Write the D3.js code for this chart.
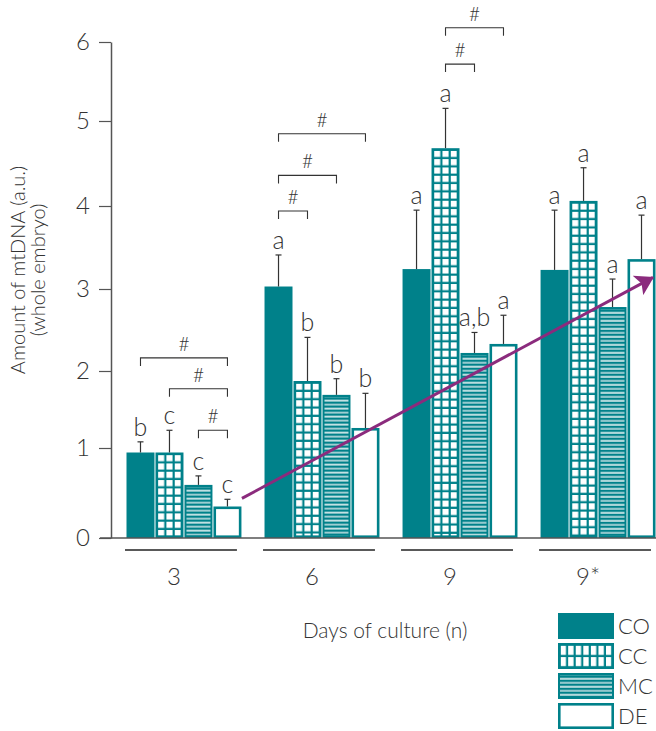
<!DOCTYPE html>
<html>
<head>
<meta charset="utf-8">
<script src="https://cdn.jsdelivr.net/npm/d3@7"></script>
<style>
  html, body { margin: 0; padding: 0; background: #fff; }
  svg { display: block; font-family: Lato, "Open Sans", sans-serif; font-weight: 300; }
</style>
</head>
<body>
<svg id="chart" width="656" height="731"></svg>
<script>
// ---------------- data ----------------
const days = ["3", "6", "9", "9*"];
const series = ["CO", "CC", "MC", "DE"];
const meanCO = [0.95, 3.03, 3.24, 3.23];
const meanCC = [0.95, 1.87, 4.68, 4.06];
const meanMC = [0.59, 1.69, 2.22, 2.78];
const meanDE = [0.35, 1.26, 2.33, 3.36];
// upper end of error bars
const errCO = [1.08, 3.41, 3.95, 3.95];
const errCC = [1.23, 2.41, 5.16, 4.45];
const errMC = [0.69, 1.90, 2.47, 3.12];
const errDE = [0.43, 1.71, 2.68, 3.89];
// significance letters
const letCO = ["b", "a", "a", "a"];
const letCC = ["c", "b", "a", "a"];
const letMC = ["c", "b", "a,b", "a"];
const letDE = ["c", "b", "a", "a"];
const yTicks = [0, 1, 2, 3, 4, 5, 6];
// "#" brackets (level in axis units)
const brackets = [
  { day: "3", from: "CO", to: "DE", level: 2.16 },
  { day: "3", from: "CC", to: "DE", level: 1.77 },
  { day: "3", from: "MC", to: "DE", level: 1.23 },
  { day: "6", from: "CO", to: "DE", level: 4.85 },
  { day: "6", from: "CO", to: "MC", level: 4.36 },
  { day: "6", from: "CO", to: "CC", level: 3.94 },
  { day: "9", from: "CC", to: "DE", level: 6.18 },
  { day: "9", from: "CC", to: "MC", level: 5.72 }
];
const trendFrom = { day: "3", value: 0.44 };
const trendTo = { day: "9*", value: 3.14 };

const means = { CO: meanCO, CC: meanCC, MC: meanMC, DE: meanDE };
const errs = { CO: errCO, CC: errCC, MC: errMC, DE: errDE };
const lets = { CO: letCO, CC: letCC, MC: letMC, DE: letDE };

// ---------------- layout ----------------
const TEAL = "#00818a";
const INK = "#333333";
const PURPLE = "#8b2b7d";
const svg = d3.select("#chart");
const defs = svg.append("defs");

// the source figure's axis is drawn with slightly uneven tick spacing
const y = d3.scaleLinear().domain(yTicks).range([538, 448, 371, 289, 206, 121, 42]);
const x0 = d3.scaleBand().domain(days).range([126, 656]).paddingInner(0.16).paddingOuter(0);
const x1 = d3.scaleBand().domain(series).range([0, x0.bandwidth()]);
const bw = x1.bandwidth();

// y axis
const yAxis = svg.append("g").attr("transform", "translate(111,0)")
  .call(d3.axisLeft(y).tickValues(yTicks).tickSize(12).tickSizeOuter(0).tickPadding(9).tickFormat(d3.format("d")));
yAxis.select(".domain").attr("stroke", "#555").attr("stroke-width", 1.5);
yAxis.selectAll(".tick line").attr("stroke", "#555").attr("stroke-width", 1.2);
yAxis.selectAll(".tick text").attr("fill", INK).style("font-size", "24px").style("font-family", "Lato, sans-serif").style("font-weight", 300);

// y title
const yt = svg.append("text").attr("transform", "translate(25,270) rotate(-90)")
  .attr("text-anchor", "middle").attr("fill", INK).style("font-size", "20px");
yt.append("tspan").attr("x", 0).attr("dy", 0).text("Amount of mtDNA (a.u.)");
yt.append("tspan").attr("x", 0).attr("dy", 20).text("(whole embryo)");

// patterns
function gridPattern(id, px, py, w, h, line) {
  const p = defs.append("pattern").attr("id", id).attr("patternUnits", "userSpaceOnUse")
    .attr("x", px).attr("y", py).attr("width", w).attr("height", h);
  p.append("rect").attr("width", w).attr("height", h).attr("fill", TEAL);
  p.append("rect").attr("x", 0).attr("y", 0).attr("width", w - line).attr("height", h - line).attr("fill", "#fff");
}
function stripePattern(id, px, py) {
  const p = defs.append("pattern").attr("id", id).attr("patternUnits", "userSpaceOnUse")
    .attr("x", px).attr("y", py).attr("width", 10).attr("height", 8);
  p.append("rect").attr("width", 10).attr("height", 8).attr("fill", TEAL);
  p.append("rect").attr("y", 2.5).attr("width", 10).attr("height", 1.5).attr("fill", "#ffffff");
  p.append("rect").attr("y", 6.5).attr("width", 10).attr("height", 1.5).attr("fill", "#cfe6e8");
}

// draw one bar-like box of a series
function drawBox(g, s, bx, by, w, h, key, legend) {
  const b = 2.6;
  if (s === "CO") {
    g.append("rect").attr("x", bx).attr("y", by).attr("width", w).attr("height", h).attr("fill", TEAL);
  } else if (s === "DE") {
    g.append("rect").attr("x", bx + b / 2).attr("y", by + b / 2).attr("width", w - b).attr("height", Math.max(0, h - b))
      .attr("fill", "#fff").attr("stroke", TEAL).attr("stroke-width", b);
  } else if (s === "CC") {
    g.append("rect").attr("x", bx).attr("y", by).attr("width", w).attr("height", h).attr("fill", TEAL);
    const line = 2.2;
    const cols = legend ? 7 : 3, rows = legend ? 2 : null;
    const pw = (w - 2 * b + line) / cols;
    const ph = legend ? (h - 2 * b + line) / rows : pw;
    gridPattern("cc-" + key, bx + b, by + b, pw, ph, line);
    g.append("rect").attr("x", bx + b).attr("y", by + b).attr("width", w - 2 * b).attr("height", Math.max(0, h - 2 * b))
      .attr("fill", `url(#cc-${key})`);
  } else {
    g.append("rect").attr("x", bx).attr("y", by).attr("width", w).attr("height", h).attr("fill", TEAL);
    stripePattern("mc-" + key, bx, by + b);
    g.append("rect").attr("x", bx + 2).attr("y", by + b).attr("width", w - 4).attr("height", Math.max(0, h - 2 * b))
      .attr("fill", `url(#mc-${key})`);
  }
}

// bars
const barsG = svg.append("g");
const barData = [];
days.forEach((d, i) => series.forEach(s => barData.push({ day: d, i, s, v: means[s][i], e: errs[s][i], l: lets[s][i] })));

barData.forEach((r, k) => {
  const bx = x0(r.day) + x1(r.s) + 0.5;
  const by = y(r.v);
  const h = y(0) - by;
  drawBox(barsG, r.s, bx, by, bw - 1, h, k, false);
});

// error bars + letters
const errG = svg.append("g").attr("stroke", INK).attr("stroke-width", 1.2);
barData.forEach(r => {
  const cx = x0(r.day) + x1(r.s) + bw / 2;
  errG.append("line").attr("x1", cx).attr("x2", cx).attr("y1", y(r.v)).attr("y2", y(r.e));
  errG.append("line").attr("x1", cx - 3).attr("x2", cx + 3).attr("y1", y(r.e)).attr("y2", y(r.e));
  svg.append("text").attr("x", cx).attr("y", y(r.e) - 6).attr("text-anchor", "middle")
    .attr("fill", INK).style("font-size", "25px").text(r.l);
});

// x baseline
svg.append("line").attr("x1", 100).attr("x2", 656).attr("y1", y(0)).attr("y2", y(0))
  .attr("stroke", "#555").attr("stroke-width", 1.5);

// group underlines and labels
days.forEach(d => {
  svg.append("line").attr("x1", x0(d) - 1).attr("x2", x0(d) + x0.bandwidth() - 5).attr("y1", 550).attr("y2", 550)
    .attr("stroke", "#222").attr("stroke-width", 1.5);
  svg.append("text").attr("x", x0(d) + x0.bandwidth() / 2 - 10).attr("y", 585).attr("text-anchor", "middle")
    .attr("fill", INK).style("font-size", "24px").text(d);
});

svg.append("text").attr("x", 385).attr("y", 638).attr("text-anchor", "middle")
  .attr("fill", INK).style("font-size", "21px").text("Days of culture (n)");

// brackets
const brG = svg.append("g");
brackets.forEach(b => {
  const xa = x0(b.day) + x1(b.from) + bw / 2;
  const xb = x0(b.day) + x1(b.to) + bw / 2;
  const yy = y(b.level);
  brG.append("path").attr("d", `M${xa},${yy + 8}V${yy}H${xb}V${yy + 8}`)
    .attr("fill", "none").attr("stroke", INK).attr("stroke-width", 1.1);
  brG.append("text").attr("x", (xa + xb) / 2).attr("y", yy - 7).attr("text-anchor", "middle")
    .attr("fill", INK).style("font-size", "19px").text("#");
});

// trend arrow
defs.append("marker").attr("id", "ah").attr("markerUnits", "userSpaceOnUse")
  .attr("viewBox", "0 -11 18 22").attr("refX", 17).attr("refY", 0)
  .attr("markerWidth", 18).attr("markerHeight", 22).attr("orient", "auto")
  .append("path").attr("d", "M0,-11L18,0L0,11L4,0Z").attr("fill", PURPLE);
const ax1 = x0(trendFrom.day) + x1("DE") + bw;
const ax2 = x0(trendTo.day) + x1("DE") + bw - 3;
svg.append("line").attr("x1", ax1).attr("y1", y(trendFrom.value)).attr("x2", ax2).attr("y2", y(trendTo.value))
  .attr("stroke", PURPLE).attr("stroke-width", 3).attr("marker-end", "url(#ah)");

// legend
const lg = svg.append("g");
series.forEach((s, i) => {
  const ly = 613 + i * 30;
  drawBox(lg, s, 558, ly, 56, 26, "lg" + i, true);
  lg.append("text").attr("x", 618).attr("y", ly + 13).attr("dy", "0.35em")
    .attr("fill", INK).style("font-size", "22px").text(s);
});
</script>
</body>
</html>
